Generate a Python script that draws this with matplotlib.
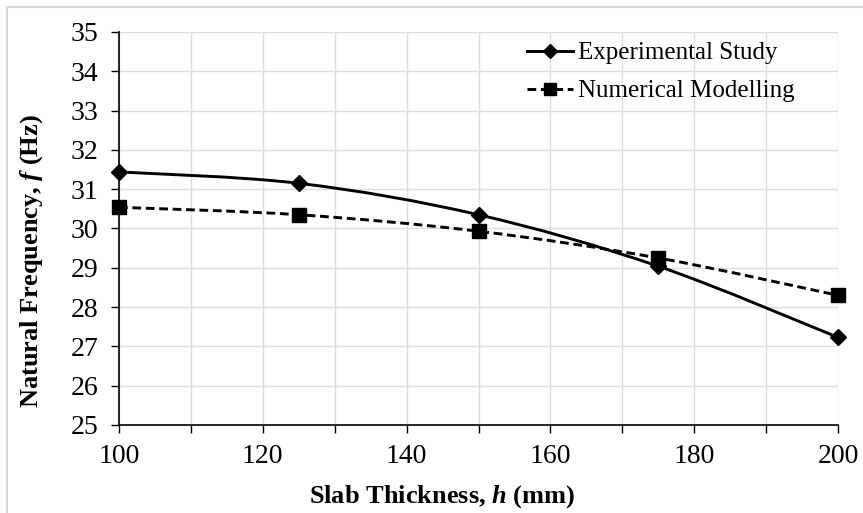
import numpy as np
import matplotlib.pyplot as plt
from matplotlib.path import Path
from matplotlib.patches import PathPatch, Rectangle
from matplotlib.lines import Line2D
from matplotlib.ticker import MultipleLocator, FuncFormatter

plt.rcParams['font.family'] = ['Liberation Serif', 'DejaVu Serif']
plt.rcParams['mathtext.fontset'] = 'custom'
plt.rcParams['mathtext.bf'] = 'Liberation Serif:italic:bold'
plt.rcParams['mathtext.it'] = 'Liberation Serif:italic'

# slab thickness (mm)
thickness = [100, 125, 150, 175, 200]
# natural frequency (Hz)
freq_exp = [31.44, 31.15, 30.35, 29.04, 27.23]
freq_num = [30.54, 30.35, 29.93, 29.25, 28.30]

labels = ['Experimental Study', 'Numerical Modelling']


def smooth_path(x, y):
    # Excel-style smoothed line (Catmull-Rom as cubic Bezier)
    p = np.column_stack([x, y]).astype(float)
    n = len(p)
    verts = [p[0]]
    codes = [Path.MOVETO]
    for i in range(n - 1):
        p0 = p[i - 1] if i > 0 else p[i]
        p3 = p[i + 2] if i + 2 < n else p[i + 1]
        c1 = p[i] + (p[i + 1] - p0) / 6.0
        c2 = p[i + 1] - (p3 - p[i]) / 6.0
        verts += [c1, c2, p[i + 1]]
        codes += [Path.CURVE4] * 3
    return Path(verts, codes)


W, H = 863, 513
fig = plt.figure(figsize=(W / 100, H / 100), dpi=100)
ax = fig.add_axes([119 / W, 1 - 425 / H, (838 - 119) / W, (425 - 32) / H])

# chart area border
fig.patches.append(Rectangle((7 / W, -0.1), 1.2, 1 - 7 / H + 0.1,
                             transform=fig.transFigure, fill=False,
                             edgecolor='#d9d9d9', linewidth=1.5))

lw = 2.1
dash = (0, (3.0, 1.6))
ax.add_patch(PathPatch(smooth_path(thickness, freq_exp), fill=False,
                       edgecolor='black', linewidth=lw, zorder=3))
ax.add_patch(PathPatch(smooth_path(thickness, freq_num), fill=False,
                       edgecolor='black', linewidth=lw, linestyle=dash,
                       zorder=3))
ax.plot(thickness, freq_exp, linestyle='none', marker='D', markersize=8,
        color='black', zorder=4, clip_on=False)
ax.plot(thickness, freq_num, linestyle='none', marker='s', markersize=9.5,
        color='black', zorder=4, clip_on=False)

ax.set_xlim(100, 200)
ax.set_ylim(25, 35)
ax.xaxis.set_major_locator(MultipleLocator(10))
ax.yaxis.set_major_locator(MultipleLocator(1))
ax.xaxis.set_major_formatter(FuncFormatter(lambda v, p: f'{v:.0f}' if round(v) % 20 == 0 else ''))
ax.tick_params(axis='both', direction='out', length=6, width=1, labelsize=20, colors='black')
ax.tick_params(axis='x', pad=8)
ax.tick_params(axis='y', pad=9)
ax.grid(True, color='#dedede', linewidth=1)
ax.set_axisbelow(True)
for s in ['top', 'right']:
    ax.spines[s].set_visible(False)
for s in ['left', 'bottom']:
    ax.spines[s].set_linewidth(1.2)
    ax.spines[s].set_color('black')

ax.set_xlabel('Slab Thickness, $\\mathbf{h}$ (mm)', fontsize=19, fontweight='bold')
ax.set_ylabel('Natural Frequency, $\\mathbf{f}$ (Hz)', fontsize=19, fontweight='bold')
ax.xaxis.set_label_coords(442 / W, 1 - 497 / H, transform=fig.transFigure)
ax.xaxis.label.set_va('center')
ax.yaxis.set_label_coords(32 / W, 1 - 261 / H, transform=fig.transFigure)
ax.yaxis.label.set_va('center')

handles = [
    Line2D([], [], color='black', linewidth=lw, marker='D', markersize=7),
    Line2D([], [], color='black', linewidth=lw, linestyle=dash, marker='s', markersize=8.5),
]
ax.legend(handles, labels, loc='upper left', bbox_to_anchor=(527 / W, 1 - 42 / H),
          bbox_transform=fig.transFigure, frameon=False, borderpad=0, borderaxespad=0,
          fontsize=18, handlelength=1.85, handletextpad=0.2, labelspacing=0.62)

fig.savefig('out.png', dpi=100)
